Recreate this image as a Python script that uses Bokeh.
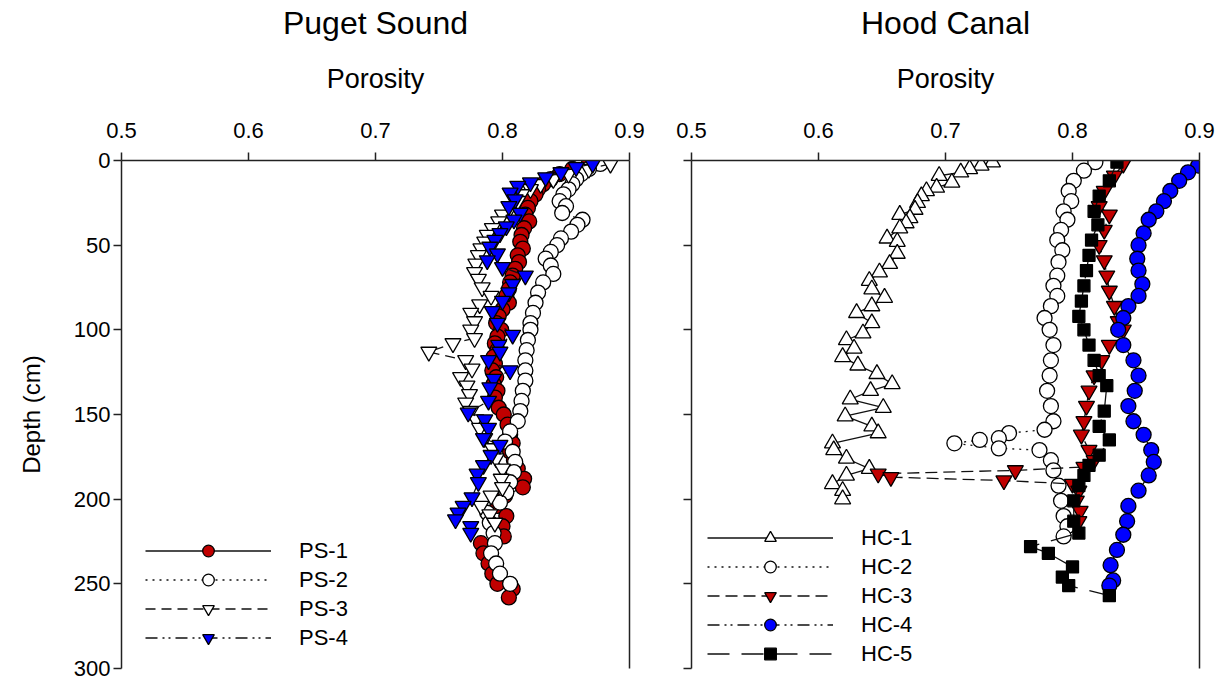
from bokeh.plotting import figure
from bokeh.models import Range1d, LinearAxis, FixedTicker, Legend, LegendItem, NumeralTickFormatter
from bokeh.layouts import row
from bokeh.embed import file_html
from bokeh.resources import INLINE

FONT = "Liberation Sans"

# ---------------- data ----------------
ps1_por = [0.868,0.855,0.845,0.838,0.832,0.828,0.826,0.822,0.820,0.818,0.821,0.817,0.815,0.814,0.816,0.812,0.813,0.810,0.808,0.806,0.805,0.803,0.805,0.800,0.797,0.795,0.799,0.796,0.794,0.796,0.793,0.794,0.792,0.795,0.793,0.796,0.794,0.797,0.801,0.804,0.806,0.808,0.806,0.809,0.812,0.817,0.816,0.802,0.796,0.803,0.800,0.801,0.783,0.785,0.789,0.792,0.796,0.808,0.805]
ps1_dep = [2,5,8,11,14,17,20,24,28,32,36,40,44,48,52,56,60,64,68,72,76,80,84,88,92,96,100,104,108,112,116,120,124,128,132,136,140,146,150,156,162,167,172,177,182,188,193,198,204,210,216,222,226,232,238,244,250,253,258]

ps2_por = [0.877,0.868,0.862,0.858,0.855,0.852,0.848,0.845,0.850,0.847,0.863,0.859,0.854,0.846,0.843,0.838,0.834,0.838,0.840,0.832,0.828,0.826,0.824,0.822,0.822,0.820,0.819,0.818,0.818,0.818,0.816,0.815,0.814,0.812,0.806,0.802,0.808,0.810,0.809,0.806,0.803,0.798,0.788,0.790,0.793,0.794,0.791,0.795,0.798,0.806]
ps2_dep = [2,5,8,11,14,17,20,24,27,31,35,38,42,46,50,54,58,62,67,72,78,84,90,96,100,106,112,118,124,130,136,142,148,154,160,166,172,178,184,190,196,202,208,214,220,226,232,238,244,250]

ps3_por = [0.885,0.868,0.852,0.840,0.830,0.822,0.815,0.812,0.806,0.800,0.797,0.792,0.788,0.786,0.783,0.781,0.779,0.778,0.781,0.784,0.791,0.782,0.775,0.778,0.775,0.778,0.761,0.742,0.771,0.776,0.767,0.772,0.774,0.771,0.775,0.779,0.782,0.786,0.792,0.795,0.800,0.799,0.800,0.791,0.783,0.790,0.794]
ps3_dep = [2,5,8,11,14,17,20,24,28,32,36,40,44,48,52,56,61,66,70,75,80,85,90,95,100,105,108,113,118,123,128,133,138,143,148,153,158,164,170,176,182,188,193,198,204,209,214]

ps4_por = [0.871,0.858,0.846,0.834,0.822,0.812,0.806,0.810,0.805,0.814,0.809,0.803,0.798,0.794,0.790,0.796,0.788,0.800,0.818,0.808,0.805,0.800,0.792,0.796,0.808,0.797,0.798,0.789,0.806,0.793,0.790,0.789,0.773,0.786,0.789,0.785,0.798,0.791,0.785,0.780,0.781,0.776,0.769,0.765,0.763,0.775,0.775]
ps4_dep = [2,4,7,10,13,15,19,23,27,31,35,39,43,47,51,55,59,63,68,73,78,83,89,96,103,109,113,118,124,129,134,142,149,153,158,164,168,174,180,185,190,199,204,208,212,216,220]

hc1_por = [0.737,0.728,0.719,0.712,0.695,0.705,0.693,0.685,0.681,0.678,0.676,0.664,0.672,0.669,0.664,0.654,0.662,0.662,0.656,0.648,0.640,0.642,0.652,0.642,0.630,0.642,0.635,0.622,0.628,0.619,0.631,0.646,0.658,0.641,0.625,0.651,0.621,0.642,0.647,0.611,0.612,0.622,0.640,0.622,0.611,0.619,0.619]
hc1_dep = [1,3,5,7,9,13,16,18,21,25,29,32,34,37,40,46,48,55,61,66,71,76,81,86,90,96,102,106,111,116,121,126,132,136,141,146,151,157,161,167,171,176,182,186,191,195,200]

hc2_por = [0.818,0.809,0.801,0.797,0.799,0.793,0.796,0.791,0.788,0.792,0.789,0.788,0.785,0.788,0.783,0.778,0.782,0.785,0.783,0.782,0.780,0.783,0.785,0.778,0.750,0.742,0.727,0.707,0.742,0.774,0.783,0.785,0.789,0.791,0.793,0.796,0.793]
hc2_dep = [1,6,12,18,24,30,35,41,47,53,60,68,74,80,86,93,100,109,118,127,136,145,154,159,161,164,165,167,170,171,177,183,192,201,210,216,222]

hc3_por = [0.840,0.833,0.825,0.821,0.829,0.825,0.821,0.825,0.827,0.829,0.833,0.836,0.840,0.829,0.823,0.817,0.813,0.811,0.809,0.807,0.813,0.817,0.809,0.755,0.647,0.657,0.746,0.800,0.805,0.803,0.806,0.805]
hc3_dep = [2,9,18,27,32,41,50,59,68,77,86,95,100,109,118,127,136,145,154,162,171,177,181,183,185,187,189,191,195,201,207,213]

hc4_por = [0.899,0.891,0.884,0.877,0.872,0.866,0.860,0.856,0.852,0.851,0.852,0.855,0.852,0.844,0.840,0.836,0.840,0.848,0.852,0.849,0.844,0.848,0.856,0.862,0.864,0.860,0.852,0.844,0.843,0.840,0.835,0.830,0.832,0.829]
hc4_dep = [3,7,12,18,24,30,35,43,50,58,65,73,80,86,93,100,109,118,127,136,145,154,162,171,178,186,195,204,213,221,230,239,248,251]

hc5_por = [0.835,0.829,0.821,0.817,0.820,0.815,0.813,0.811,0.809,0.807,0.805,0.809,0.813,0.817,0.821,0.827,0.825,0.821,0.829,0.821,0.813,0.809,0.805,0.801,0.801,0.805,0.767,0.781,0.800,0.792,0.797,0.829]
hc5_dep = [1,12,21,30,38,47,56,65,74,83,92,100,109,118,127,133,148,157,165,174,180,186,192,201,213,220,228,232,240,246,251,257]

x_ticks = [0.5, 0.6, 0.7, 0.8, 0.9]
y_ticks = [0, 50, 100, 150, 200, 250, 300]

RED = "#C00000"
BLUE = "#0000FF"


def make_panel(title, left_border, right_border, show_ylabels):
    p = figure(width=left_border + 508 + right_border, height=680,
               x_range=Range1d(0.5, 0.9), y_range=Range1d(300, 0),
               x_axis_location="above", output_backend="svg",
               toolbar_location=None, min_border_left=left_border,
               min_border_right=right_border, min_border_top=160,
               min_border_bottom=12, outline_line_color=None,
               background_fill_color="white", border_fill_color="white")
    p.grid.visible = False

    xa = p.xaxis[0]
    xa.ticker = FixedTicker(ticks=x_ticks)
    xa.formatter = NumeralTickFormatter(format="0.0")
    xa.axis_label = "Porosity"
    ya = p.yaxis[0]
    ya.ticker = FixedTicker(ticks=y_ticks)
    if show_ylabels:
        ya.axis_label = "Depth (cm)"
    else:
        ya.major_label_overrides = {t: "" for t in y_ticks}
    for ax in (xa, ya):
        ax.axis_line_width = 1.5
        ax.axis_line_color = "#222222"
        ax.major_tick_line_color = "#222222"
        ax.major_tick_line_width = 1.5
        ax.major_tick_out = 8
        ax.major_tick_in = 0
        ax.minor_tick_line_color = None
        ax.major_label_text_font = FONT
        ax.major_label_text_font_size = "22px"
        ax.major_label_text_color = "black"
        ax.axis_label_text_font = FONT
        ax.axis_label_text_font_style = "normal"
        ax.axis_label_text_color = "black"
    xa.axis_label_text_font_size = "27px"
    ya.axis_label_text_font_size = "24px"
    xa.major_label_standoff = 15
    xa.axis_label_standoff = 26
    ya.major_label_standoff = 3
    ya.axis_label_standoff = 26

    # panel title, drawn as the label of a bare axis stacked above
    tax = LinearAxis(ticker=FixedTicker(ticks=[]), axis_line_color=None,
                     major_tick_line_color=None, minor_tick_line_color=None,
                     major_tick_out=0, minor_tick_out=0, major_label_standoff=0,
                     axis_label=title, axis_label_standoff=20,
                     axis_label_text_font=FONT, axis_label_text_font_size="32px",
                     axis_label_text_font_style="normal",
                     axis_label_text_color="black")
    p.add_layout(tax, "above")

    rax = LinearAxis(ticker=FixedTicker(ticks=[]), axis_line_width=1.5,
                     axis_line_color="#222222", major_tick_line_color=None,
                     minor_tick_line_color=None)
    p.add_layout(rax, "right")
    return p


def add_series(p, por, dep, marker, fill, dash, size):
    ln = p.line(por, dep, line_color="#111111", line_width=1.3, line_dash=dash)
    sc = p.scatter(por, dep, marker=marker, size=size, fill_color=fill,
                   line_color="black", line_width=1.3)
    return [ln, sc]


def style_legend(p, items, loc):
    lg = Legend(items=items, location=loc, glyph_width=126, glyph_height=29,
                label_height=29, spacing=0, padding=0, margin=0,
                label_standoff=28, border_line_color=None,
                background_fill_alpha=0, label_text_font=FONT,
                label_text_font_size="22px", label_text_color="black")
    p.add_layout(lg)


p1 = make_panel("Puget Sound", 121, 26, True)
r1 = add_series(p1, ps1_por, ps1_dep, "circle", RED, "solid", 15)
r2 = add_series(p1, ps2_por, ps2_dep, "circle", "white", "2 5", 15)
r3 = add_series(p1, ps3_por, ps3_dep, "inverted_triangle", "white", "10 6", 16)
r4 = add_series(p1, ps4_por, ps4_dep, "inverted_triangle", BLUE, "12 5 2 4 2 5", 16)
style_legend(p1, [LegendItem(label="PS-1", renderers=r1),
                  LegendItem(label="PS-2", renderers=r2),
                  LegendItem(label="PS-3", renderers=r3),
                  LegendItem(label="PS-4", renderers=r4)], (24, 16))

p2 = make_panel("Hood Canal", 36, 24, False)
h1 = add_series(p2, hc1_por, hc1_dep, "triangle", "white", "solid", 16)
h2 = add_series(p2, hc2_por, hc2_dep, "circle", "white", "2 5", 15)
h3 = add_series(p2, hc3_por, hc3_dep, "inverted_triangle", RED, "12 6", 16)
h4 = add_series(p2, hc4_por, hc4_dep, "circle", BLUE, "12 5 2 4 2 5", 15)
h5 = add_series(p2, hc5_por, hc5_dep, "square", "black", "22 12", 12)
style_legend(p2, [LegendItem(label="HC-1", renderers=h1),
                  LegendItem(label="HC-2", renderers=h2),
                  LegendItem(label="HC-3", renderers=h3),
                  LegendItem(label="HC-4", renderers=h4),
                  LegendItem(label="HC-5", renderers=h5)], (16, 0))

layout = row(p1, p2)
open("out.html", "w").write(file_html(layout, INLINE))
